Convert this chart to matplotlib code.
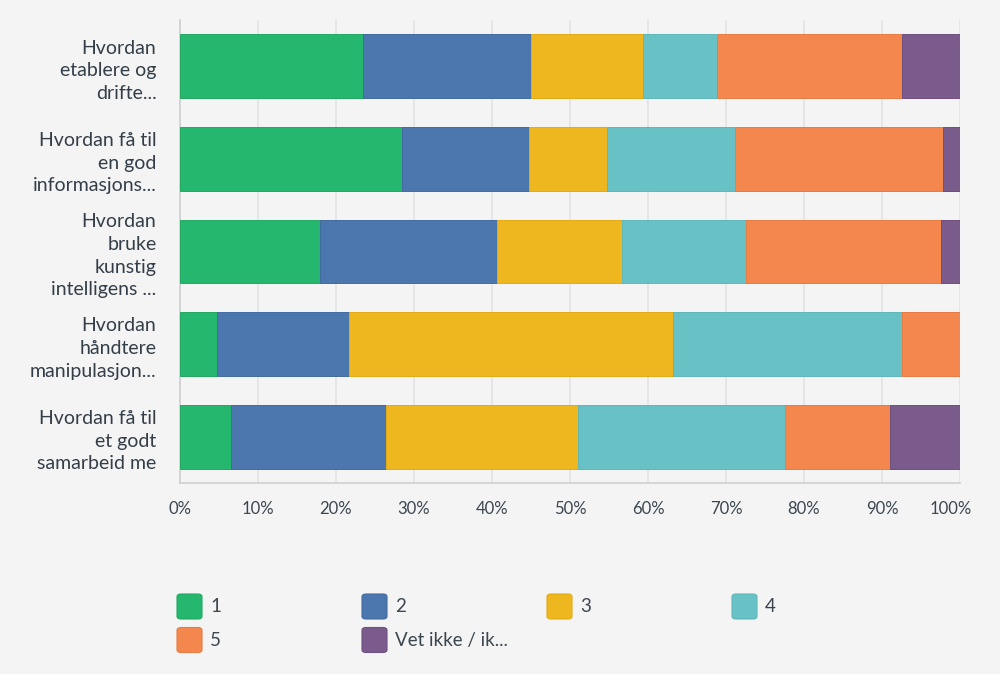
import matplotlib
matplotlib.use("Agg")
import matplotlib.pyplot as plt
from matplotlib.patches import FancyBboxPatch
from matplotlib.transforms import ScaledTranslation
import numpy as np

plt.rcParams['font.family'] = ['Lato', 'DejaVu Sans']

categories = [
    "Hvordan\netablere og\ndrifte...",
    "Hvordan få til\nen god\ninformasjons...",
    "Hvordan\nbruke\nkunstig\nintelligens ...",
    "Hvordan\nhåndtere\nmanipulasjon...",
    "Hvordan få til\net godt\nsamarbeid me",
]
series_labels = ["1", "2", "3", "4", "5", "Vet ikke / ik..."]
s1 = [23.5, 28.5, 18.0, 4.7, 6.6]
s2 = [21.5, 16.2, 22.7, 17.0, 19.8]
s3 = [14.4, 10.1, 16.0, 41.5, 24.6]
s4 = [9.5, 16.4, 15.9, 29.3, 26.6]
s5 = [23.7, 26.6, 25.0, 7.5, 13.4]
s6 = [7.4, 2.2, 2.4, 0.0, 9.0]
series = [s1, s2, s3, s4, s5, s6]
colors = ["#26b76e", "#4b77ae", "#efb71f", "#68c2c5", "#f4874e", "#7a5b8c"]
edges = ["#22a863", "#436ba0", "#e3ab14", "#5fb6b9", "#e87d45", "#6e5080"]
xticks = [0, 10, 20, 30, 40, 50, 60, 70, 80, 90, 100]
xticklabels = ["0%", "10%", "20%", "30%", "40%", "50%", "60%", "70%", "80%", "90%", "100%"]

W, H = 1000, 674
bg = "#f4f4f4"
fig = plt.figure(figsize=(10, 6.74), dpi=100, facecolor=bg)
ax = fig.add_axes([180 / W, 1 - 483 / H, 780 / W, 463 / H])
ax.set_facecolor(bg)

y = np.arange(len(categories))
left = np.zeros(len(categories))
for vals, c, ec in zip(series, colors, edges):
    v = np.array(vals)
    ax.barh(y, v, left=left, height=0.69, color=c, edgecolor=ec, linewidth=0.7, zorder=3)
    left += v

ax.set_xlim(0, 100)
ax.set_ylim(len(categories) - 0.5, -0.5)
ax.set_yticks(y)
ax.set_yticklabels(categories, fontsize=14, color="#333e48", linespacing=1.4)
ax.set_xticks(xticks)
ax.set_xticklabels(xticklabels, fontsize=12, color="#3b4650")
ax.tick_params(axis='both', length=0)
ax.tick_params(axis='y', pad=17)
ax.tick_params(axis='x', pad=13)
ax.grid(axis='x', color="#e2e2e2", linewidth=1.2, zorder=0)
for s in ["top", "right"]:
    ax.spines[s].set_visible(False)
for s in ["left", "bottom"]:
    ax.spines[s].set_color("#cfcfcf")
    ax.spines[s].set_linewidth(1.2)

# shift last tick label left slightly like reference
lbl = ax.get_xticklabels()[-1]
lbl.set_transform(lbl.get_transform() + ScaledTranslation(-9 / 100, 0, fig.dpi_scale_trans))

# legend drawn manually in a 4-column grid
for i, (lab, c, ec) in enumerate(zip(series_labels, colors, edges)):
    row, col = divmod(i, 4)
    x0 = 177 + 185 * col
    ytop = 594 + 33.5 * row
    sq = FancyBboxPatch((x0 / W, 1 - (ytop + 25) / H), 25 / W, 25 / H,
                        boxstyle="round,pad=0,rounding_size=0.004",
                        transform=fig.transFigure, facecolor=c, edgecolor=ec,
                        linewidth=0.8)
    fig.patches.append(sq)
    fig.text((x0 + 33) / W, 1 - (ytop + 13) / H, lab, fontsize=13.5,
             color="#3b4650", va="center", ha="left")

fig.savefig("out.png", dpi=100, facecolor=bg)
